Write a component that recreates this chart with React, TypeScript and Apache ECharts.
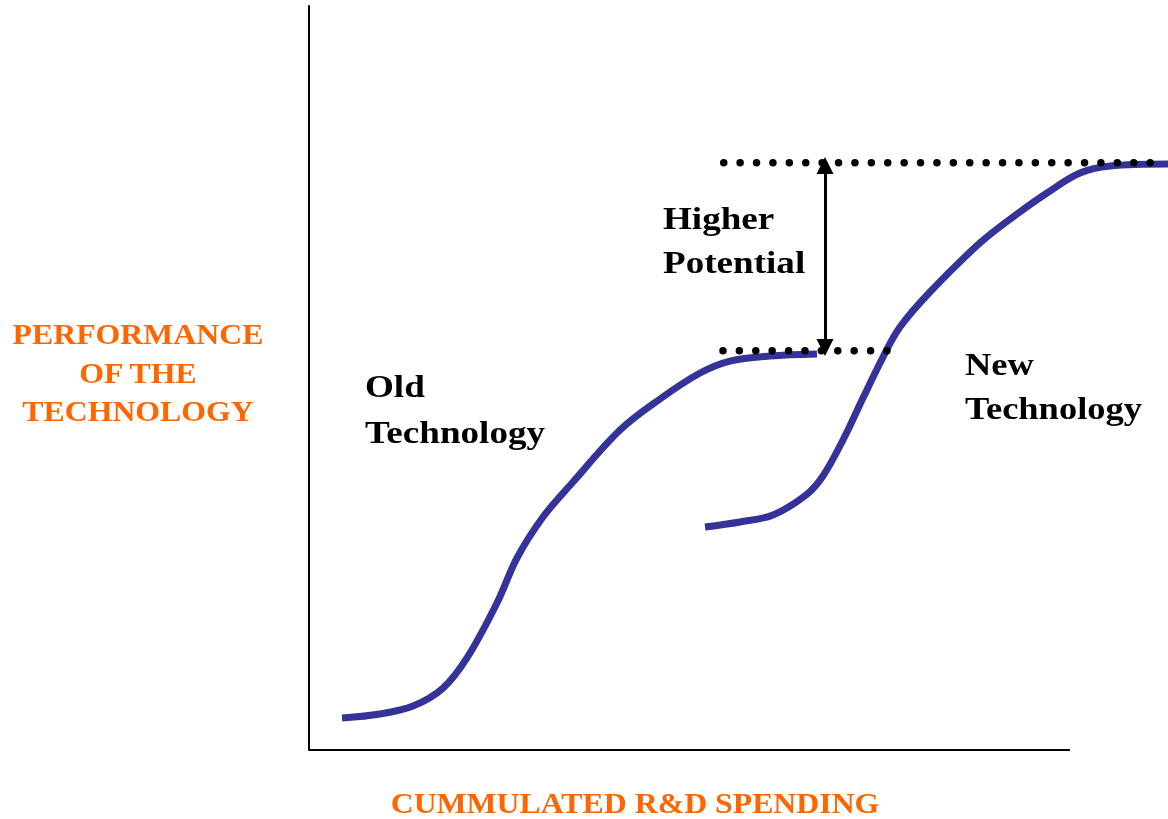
import React, { useEffect, useRef } from "react";
import * as echarts from "echarts";

// Old technology S-curve (x = cumulated R&D spending, y = performance)
const oldTechX = [4.34, 9.33, 13.67, 17.61, 20.76, 24.7, 27.33, 30.75, 34.69, 40.87, 46.12, 51.38, 55.32, 60.58, 66.75];
const oldTechY = [4.3, 4.84, 5.91, 8.33, 12.37, 19.76, 25.81, 31.32, 36.02, 43.01, 47.18, 50.67, 52.28, 52.96, 53.23];

// New technology S-curve
const newTechX = [52.04, 56.64, 60.97, 65.31, 67.54, 70.17, 72.8, 75.43, 77.66, 81.6, 88.17, 92.51, 96.98, 101.31, 105.26, 112.88];
const newTechY = [29.97, 30.65, 31.59, 34.27, 36.83, 41.67, 47.31, 52.82, 56.85, 61.56, 68.15, 71.64, 74.87, 77.55, 78.49, 78.76];

// Performance limits (dotted lines)
const oldLimitX = [54.4, 76.0];
const oldLimit = 53.67;
const newLimitX = [54.5, 111.5];
const newLimit = 78.94;

// Higher potential arrow (symbol centres)
const arrowX = 67.81;
const arrowY = [54.1, 78.56];

// Axis extents
const xAxisEnd = 100;
const xMax = 112.88;
const yMax = 100;

const labels = {
  yAxis: ["PERFORMANCE", "OF THE", "TECHNOLOGY"],
  xAxis: "CUMMULATED R&D SPENDING",
  oldTech: ["Old", "Technology"],
  newTech: ["New", "Technology"],
  potential: ["Higher", "Potential"],
};

const zip = (xs: number[], ys: number[]) => xs.map((x, i) => [x, ys[i]]);

export default function App() {
  const ref = useRef<HTMLDivElement>(null);
  useEffect(() => {
    if (!ref.current) return;
    const chart = echarts.init(ref.current, undefined, { renderer: "svg" });
    const serif = "'Liberation Serif', 'Times New Roman', serif";
    const blue = "#333399";
    const orange = "#FF6600";
    const blackText = (lines: string[], x: number, y0: number, gap: number, sx: number) =>
      lines.map((t, i) => ({
        type: "text",
        x,
        y: y0 + i * gap,
        scaleX: sx,
        style: {
          text: t,
          font: `bold 32px ${serif}`,
          fill: "#000",
          textAlign: "left",
          textVerticalAlign: "middle",
        },
      }));
    const orangeText = (text: string, x: number, y: number) => ({
      type: "text",
      x,
      y,
      scaleX: 1.06,
      style: {
        text,
        font: `bold 30px ${serif}`,
        fill: orange,
        textAlign: "center",
        textVerticalAlign: "middle",
      },
    });
    chart.setOption({
      animation: false,
      grid: { left: 309, top: 6, right: 0, bottom: 69, containLabel: false },
      xAxis: {
        type: "value",
        min: 0,
        max: xMax,
        axisLine: { show: false },
        axisTick: { show: false },
        axisLabel: { show: false },
        splitLine: { show: false },
      },
      yAxis: {
        type: "value",
        min: 0,
        max: yMax,
        axisLine: { show: true, onZero: false, lineStyle: { color: "#000", width: 2 } },
        axisTick: { show: false },
        axisLabel: { show: false },
        splitLine: { show: false },
      },
      series: [
        {
          type: "line",
          name: "x axis",
          data: [[0, 0], [xAxisEnd, 0]],
          showSymbol: false,
          silent: true,
          lineStyle: { color: "#000", width: 2 },
          z: 1,
        },
        {
          type: "line",
          name: "Old Technology",
          data: zip(oldTechX, oldTechY),
          smooth: 0.35,
          showSymbol: false,
          lineStyle: { color: blue, width: 7 },
          z: 2,
        },
        {
          type: "line",
          name: "New Technology",
          data: zip(newTechX, newTechY),
          smooth: 0.35,
          showSymbol: false,
          lineStyle: { color: blue, width: 7 },
          z: 2,
        },
        {
          type: "line",
          name: "Old limit",
          data: oldLimitX.map((x) => [x, oldLimit]),
          showSymbol: false,
          lineStyle: { color: "#000", width: 7.5, type: [0, 16.4], cap: "round" },
          z: 3,
        },
        {
          type: "line",
          name: "New limit",
          data: newLimitX.map((x) => [x, newLimit]),
          showSymbol: false,
          lineStyle: { color: "#000", width: 7.5, type: [0, 16.4], cap: "round" },
          z: 3,
          markLine: {
            silent: true,
            symbol: ["triangle", "triangle"],
            symbolSize: [17, 17],
            label: { show: false },
            lineStyle: { color: "#000", width: 3, type: "solid" },
            data: [[{ coord: [arrowX, arrowY[0]] }, { coord: [arrowX, arrowY[1]] }]],
          },
        },
      ],
      graphic: [
        ...labels.yAxis.map((t, i) => orangeText(t, 138, 334 + i * 38.5)),
        orangeText(labels.xAxis, 635, 803),
        ...blackText(labels.oldTech, 365, 386, 46, 1.16),
        ...blackText(labels.potential, 663, 218, 44, 1.16),
        ...blackText(labels.newTech, 965, 364, 44, 1.14),
      ],
    });
    return () => chart.dispose();
  }, []);
  return (
    <div
      ref={ref}
      style={{ position: "fixed", left: 0, top: 0, width: 1168, height: 819 }}
    />
  );
}
